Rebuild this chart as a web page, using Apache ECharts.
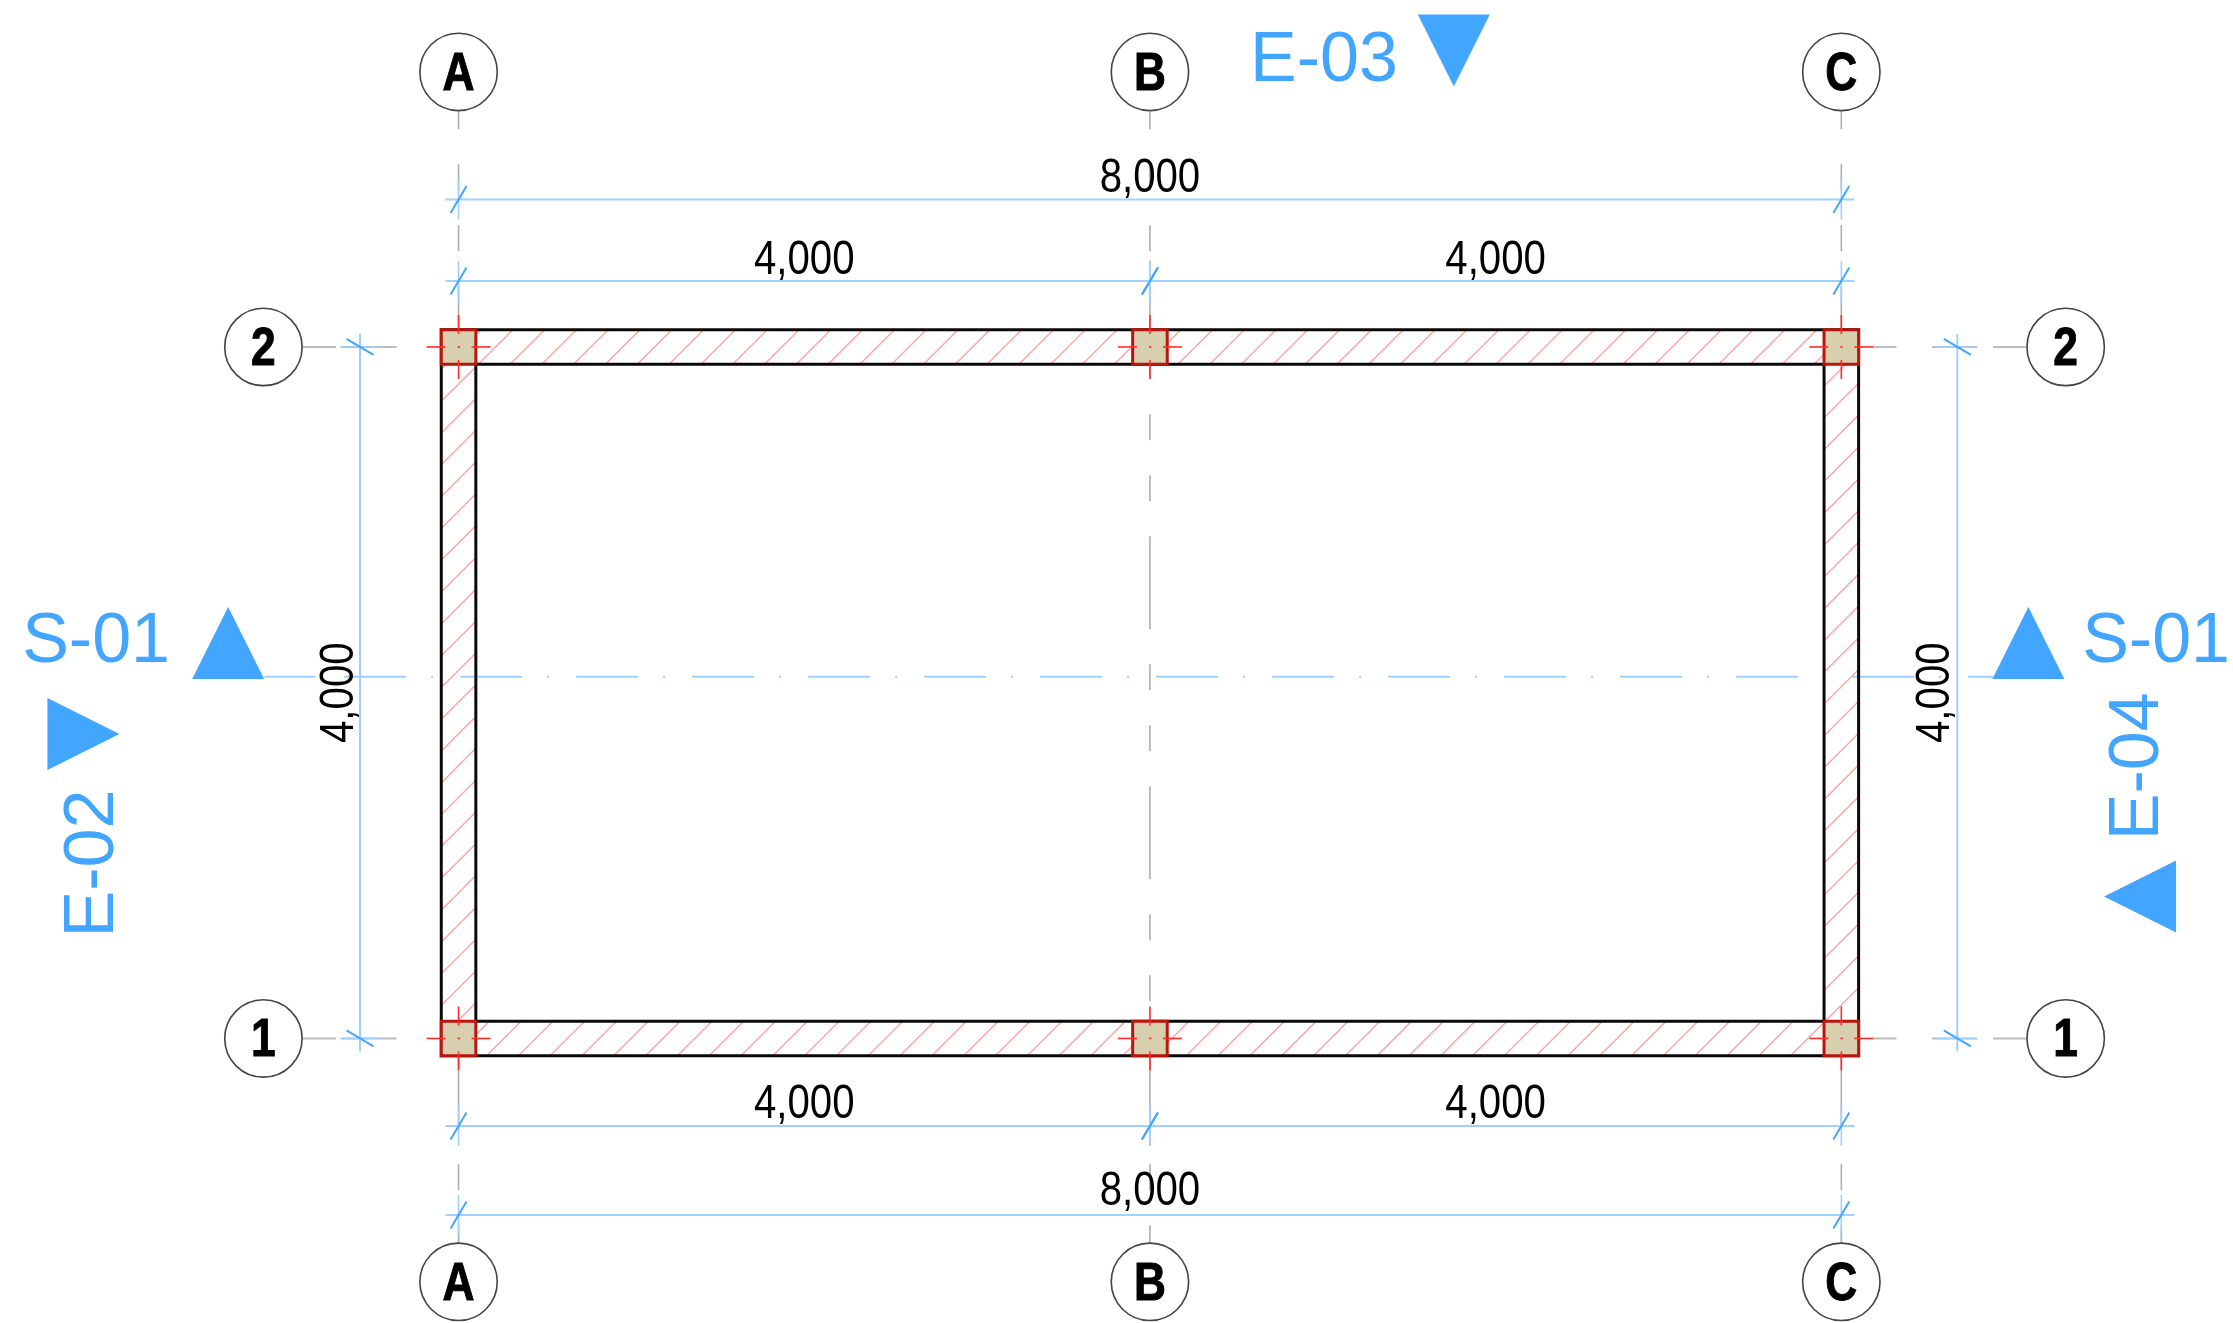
<!DOCTYPE html>
<html>
<head>
<meta charset="utf-8">
<style>html,body{margin:0;padding:0;background:#fff}#c{width:2233px;height:1323px}</style>
<script src="https://cdn.jsdelivr.net/npm/echarts@6/dist/echarts.min.js"></script>
</head>
<body>
<div id="c"></div>
<script>
// ---- drawing content, in millimetres of the plan ----
const gridX = [0, 4000, 8000];
const gridY = [0, 4000];
const columnNames = ['A', 'B', 'C'];
const rowNames = ['1', '2'];
const bubbleRowsY = [5591, -1408];
const bubbleColsX = [-1129, 9298];
const halfColumn = 100;
const wallThickness = 200;

const hDimSpans = [[0, 8000], [0, 4000], [4000, 8000], [0, 4000], [4000, 8000], [0, 8000]];
const hDimLineY = [4853, 4382, 4382, -506, -506, -1021];
const hDimTextY = [4975, 4501, 4501, -384, -384, -888];
const hDimValues = ['8,000', '4,000', '4,000', '4,000', '4,000', '8,000'];
const vDimLineX = [-570, 8671];
const vDimTextX = [-688, 8547];
const vDimValues = ['4,000', '4,000'];

const sectionNames = ['E-03', 'S-01', 'S-01', 'E-02', 'E-04'];
const sectionTextX = [5007, -2097, 9821, -2112, 9722];
const sectionTextY = [5650, 2291, 2291, 1012, 1574];
const sectionTextTurn = [0, 0, 0, 1, 1];
const sectionTipX = [5758, -1333, 9082, -1962, 9520];
const sectionTipY = [5506, 2496, 2496, 1761, 821];
const sectionTipDir = ['down', 'up', 'up', 'right', 'left'];

const midAxisY = 2093;
const midAxisStub = [-1123, -828];
const midAxisRun = [-662, 8878];
const rowStubs = [[-905, -709], [-674, -359], [8184, 8319], [8525, 8785], [8878, 9069]];
const colAxisEnds = [5364, -1183];

const hatchStart = -3786;
const hatchStep = 184;

// ---- styling ----
const BLUE = '#42a5ff', LIGHT = '#9fd0ff', GREY = '#aeaeae', RED = '#ff2a2a';
const SANS = '"Liberation Sans", Arial, sans-serif';

function line(a, b, stroke, lineWidth, extra) {
  return { type: 'line', silent: true, shape: { x1: a[0], y1: a[1], x2: b[0], y2: b[1] },
           style: Object.assign({ stroke, lineWidth, fill: null }, extra || {}) };
}
function label(p, text, o) {
  return { type: 'text', silent: true, x: p[0], y: p[1], rotation: o.turn ? Math.PI / 2 : 0, scaleX: o.sx || 1,
           style: { text, fontFamily: SANS, fontSize: o.size, fontWeight: o.weight || 'normal',
                    fill: o.fill, align: 'center', verticalAlign: 'middle',
                    stroke: o.outline ? o.fill : null, lineWidth: o.outline || 0 } };
}
function layer(name, items, draw) {
  return { type: 'custom', name, coordinateSystem: 'cartesian2d', clip: false, silent: true, z: 2,
           animation: false,
           data: items.map((_, i) => [0, 0, i]),
           renderItem: (p, api) => draw(items[p.dataIndex], pt => api.coord(pt)) };
}
const rows = [];
gridX.forEach(x => gridY.forEach(y => rows.push([x, y])));

const W = wallThickness / 2;
const minX = gridX[0], maxX = gridX[2], minY = gridY[0], maxY = gridY[1];
const wallBoxes = [
  [minX - W, maxX + W, maxY - W, maxY + W],
  [minX - W, maxX + W, minY - W, minY + W],
  [minX - W, minX + W, minY + W, maxY - W],
  [maxX - W, maxX + W, minY + W, maxY - W]
];

const series = [
  // grid axes
  layer('column axes', gridX, (x, c) => line(c([x, colAxisEnds[0]]), c([x, colAxisEnds[1]]), GREY, 1.6,
    { lineDash: [93, 35, 26, 35, 26, 35], lineDashOffset: 75 })),
  layer('row axes', gridY, (y, c) => ({ type: 'group', children: rowStubs.map(s => line(c([s[0], y]), c([s[1], y]), '#bdbdbd', 2)) })),
  // wall body masks what runs beneath it
  layer('wall body', wallBoxes, (b, c) => {
    const a = c([b[0], b[3]]), d = c([b[1], b[2]]);
    return { type: 'rect', silent: true, shape: { x: a[0], y: a[1], width: d[0] - a[0], height: d[1] - a[1] }, style: { fill: '#fff' } };
  }),
  // hatch
  layer('wall hatch', wallBoxes, (b, c) => {
    const children = [];
    for (let k = hatchStart - hatchStep * 3; k < maxX + 400; k += hatchStep) {
      const y1 = Math.max(b[2], b[0] - k), y2 = Math.min(b[3], b[1] - k);
      if (y2 > y1) children.push(line(c([y1 + k, y1]), c([y2 + k, y2]), '#ffa3a3', 1.4));
    }
    return { type: 'group', children };
  }),
  // middle axis
  layer('middle axis', [midAxisY], (y, c) => ({ type: 'group', children: [
    line(c([midAxisStub[0], y]), c([midAxisStub[1], y]), LIGHT, 2),
    line(c([midAxisRun[0], y]), c([midAxisRun[1], y]), LIGHT, 2, { lineDash: [62, 25, 2, 27] })
  ] })),
  // walls
  layer('walls', [W, -W], (d, c) => {
    const a = c([minX - d, maxY + d]), b = c([maxX + d, minY - d]);
    return { type: 'rect', silent: true, shape: { x: a[0], y: a[1], width: b[0] - a[0], height: b[1] - a[1] },
             style: { fill: null, stroke: '#0a0a0a', lineWidth: 3 } };
  }),
  // columns
  layer('columns', rows, (q, c) => {
    const a = c([q[0] - halfColumn, q[1] + halfColumn]), b = c([q[0] + halfColumn, q[1] - halfColumn]);
    const m = c(q);
    const arm = (dx, dy) => line([m[0] + dx * 13, m[1] + dy * 13], [m[0] + dx * 32, m[1] + dy * 32], RED, 1.6);
    return { type: 'group', children: [
      { type: 'rect', silent: true, shape: { x: a[0], y: a[1], width: b[0] - a[0], height: b[1] - a[1] },
        style: { fill: '#d8cfae', stroke: '#b8150d', lineWidth: 3 } },
      arm(1, 0), arm(-1, 0), arm(0, 1), arm(0, -1),
      line([m[0] - 1, m[1]], [m[0] + 1.5, m[1]], RED, 1.6)
    ] };
  }),
  // dimensions
  layer('horizontal dimensions', hDimValues.map((v, i) => i), (i, c) => {
    const s = hDimSpans[i], y = hDimLineY[i];
    const children = [line(c([s[0] - 75, y]), c([s[1] + 75, y]), LIGHT, 2)];
    s.forEach(x => {
      const m = c([x, y]);
      children.push(line(c([x, y + 116]), c([x, y - 116]), LIGHT, 1.6));
      children.push(line([m[0] - 8, m[1] + 13.5], [m[0] + 8, m[1] - 13.5], BLUE, 2));
    });
    children.push(label(c([(s[0] + s[1]) / 2, hDimTextY[i]]), hDimValues[i], { size: 49, sx: 0.82, fill: '#000' }));
    return { type: 'group', children };
  }),
  layer('vertical dimensions', vDimValues.map((v, i) => i), (i, c) => {
    const x = vDimLineX[i];
    const children = [line(c([x, minY - 75]), c([x, maxY + 75]), LIGHT, 2)];
    gridY.forEach(y => {
      const m = c([x, y]);
      children.push(line(c([x - 116, y]), c([x + 116, y]), LIGHT, 1.6));
      children.push(line([m[0] - 13.5, m[1] - 8], [m[0] + 13.5, m[1] + 8], BLUE, 2));
    });
    children.push(label(c([vDimTextX[i], (minY + maxY) / 2]), vDimValues[i], { size: 49, sx: 0.82, fill: '#000', turn: true }));
    return { type: 'group', children };
  }),
  // bubbles
  layer('column bubbles', columnNames.flatMap((n, i) => bubbleRowsY.map(y => [gridX[i], y, n])), (b, c) => bubble(c([b[0], b[1]]), b[2])),
  layer('row bubbles', rowNames.flatMap((n, i) => bubbleColsX.map(x => [x, gridY[i], n])), (b, c) => bubble(c([b[0], b[1]]), b[2])),
  // section marks
  layer('section marks', sectionNames.map((n, i) => i), (i, c) => {
    const t = c([sectionTipX[i], sectionTipY[i]]);
    const L = 72, H = 36;
    const pts = { down: [[-H, -L], [H, -L]], up: [[-H, L], [H, L]], right: [[-L, -H], [-L, H]], left: [[L, -H], [L, H]] }[sectionTipDir[i]];
    return { type: 'group', children: [
      { type: 'polygon', silent: true, shape: { points: [t, [t[0] + pts[0][0], t[1] + pts[0][1]], [t[0] + pts[1][0], t[1] + pts[1][1]]] }, style: { fill: BLUE } },
      Object.assign(label(c([sectionTextX[i], sectionTextY[i]]), sectionNames[i], { size: 70, fill: BLUE }),
                    sectionTextTurn[i] ? { rotation: Math.PI / 2 } : {})
    ] };
  })
];
function bubble(p, text) {
  return { type: 'group', children: [
    { type: 'circle', silent: true, shape: { cx: p[0], cy: p[1], r: 38.7 }, style: { fill: '#fff', stroke: '#444', lineWidth: 1.6 } },
    label([p[0], p[1] + 3], text, { size: 54, sx: 0.82, weight: 'bold', fill: '#000', outline: 1 })
  ] };
}

const chart = echarts.init(document.getElementById('c'), null, { renderer: 'canvas' });
chart.setOption({
  backgroundColor: '#fff',
  animation: false,
  tooltip: { show: false },
  grid: { left: 0, right: 0, top: 0, bottom: 0 },
  xAxis: { type: 'value', min: -2653, max: 10266, show: false },
  yAxis: { type: 'value', min: -1646, max: 6007, show: false },
  series
});
</script>
</body>
</html>
